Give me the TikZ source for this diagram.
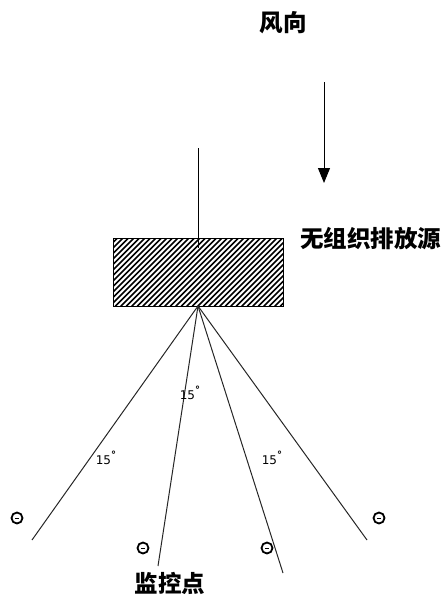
\documentclass[tikz,border=0pt]{standalone}
\usepackage{fontspec}
\newfontfamily\cjk{Noto Sans CJK SC}
\newfontfamily\lab{DejaVu Sans}
\usetikzlibrary{arrows.meta}
\tikzset{
  cjklabel/.style={font=\cjk\bfseries\fontsize{23.5}{24}\selectfont, inner sep=0pt},
  anglabel/.style={font=\lab\fontsize{12}{12}\selectfont, inner sep=0pt},
  ray/.style={line width=1pt, draw=black!85},
  monitor/.style={circle, draw, line width=1.8pt, minimum size=11pt, inner sep=0pt},
  hatchline/.style={line width=1.6pt},
}
\newcommand{\degblob}{\raisebox{0.9ex}{\fontsize{10}{10}\selectfont\bfseries°}}
\begin{document}
\begin{tikzpicture}[x=1pt,y=-1pt]
\useasboundingbox (0,0) rectangle (447,600);
% wind direction
\node[cjklabel] (wind) at (283,23) {风向};
\coordinate (wtop) at (324,82);
\coordinate (wend) at (324,183);
\draw[line width=1pt, -{Triangle[length=15pt,width=12pt]}] (wtop) -- (wend);
% source
\node[minimum width=169pt, minimum height=67pt, inner sep=0pt] (src) at (198.5,272.5) {};
\begin{scope}
  \clip (src.south west) rectangle (src.north east);
  \foreach \i in {0,...,45}{
    \draw[hatchline] ([xshift={\i*5.5pt-70pt}]src.south west) -- ++(70pt,70pt);
  }
\end{scope}
\draw[line width=1pt] (src.south west) rectangle (src.north east);
\node[cjklabel, anchor=west] (srclab) at (300,239) {无组织排放源};
\coordinate (vtop) at (198,148);
\coordinate (vbot) at (198,248);
\draw[line width=1pt] (vtop) -- (vbot);
% rays
\coordinate (apex) at (198,306);
\coordinate (r1) at (32,540);
\coordinate (r2) at (158,566);
\coordinate (r3) at (283,573);
\coordinate (r4) at (367,540);
\draw[ray] (apex) -- (r1);
\draw[ray] (apex) -- (r2);
\draw[ray] (apex) -- (r3);
\draw[ray] (apex) -- (r4);
% angle labels
\node[anglabel] (a1) at (106,458) {15\degblob};
\node[anglabel] (a2) at (190,393) {15\degblob};
\node[anglabel] (a3) at (272,458) {15\degblob};
% monitoring points
\foreach \n/\x/\y in {m1/17/518, m2/143/548, m3/267/548, m4/379/518}{
  \node[monitor] (\n) at (\x,\y) {};
  \draw[line width=1pt] ([xshift=-2pt]\n.center) -- ([xshift=2pt]\n.center);
}
\node[cjklabel] (mlab) at (170,583) {监控点};
\end{tikzpicture}
\end{document}
